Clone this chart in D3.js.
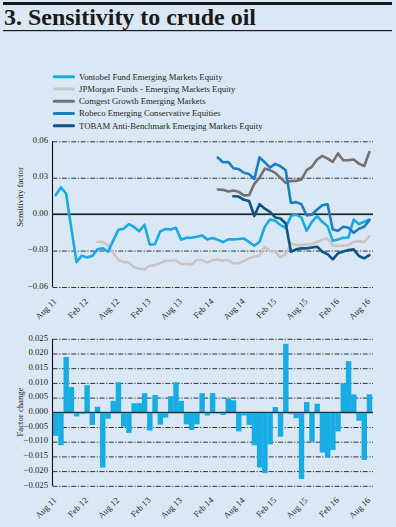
<!DOCTYPE html>
<html><head><meta charset="utf-8">
<script src="https://cdn.jsdelivr.net/npm/d3@7/dist/d3.min.js"></script>
<style>
html,body{margin:0;padding:0;background:#dae8f5;}
svg{display:block;}
text{font-family:"Liberation Serif","Times New Roman",serif;fill:#231f20;}
</style></head><body><svg id="c" width="396" height="527"></svg>
<script>
// ---------- data ----------
const titleText = "3. Sensitivity to crude oil";
const tickLabels = ["Aug 11","Feb 12","Aug 12","Feb 13","Aug 13","Feb 14","Aug 14","Feb 15","Aug 15","Feb 16","Aug 16"];
const tickMonths = [0,6,12,18,24,30,36,42,48,54,60]; // month index, 0 = Aug 2011
const seriesNames = ["Vontobel Fund Emerging Markets Equity","JPMorgan Funds - Emerging Markets Equity","Comgest Growth Emerging Markets","Robeco Emerging Conservative Equities","TOBAM Anti-Benchmark Emerging Markets Equity"];
const topTicks = [0.06,0.03,0.00,-0.03,-0.06];
const bottomTicks = [0.025,0.020,0.015,0.010,0.005,0.000,-0.005,-0.010,-0.015,-0.020,-0.025];

const vontobel = [0.0156,0.022,0.017,-0.0115,-0.0395,-0.0342,-0.0356,-0.0345,-0.029,-0.028,
 -0.031,-0.022,-0.0128,-0.012,-0.0082,-0.0105,-0.014,-0.0087,-0.025,-0.0248,
 -0.0142,-0.0122,-0.0126,-0.0112,-0.021,-0.0195,-0.0194,-0.0186,-0.0175,-0.0208,
 -0.0197,-0.021,-0.023,-0.0208,-0.0208,-0.0205,-0.02,-0.023,-0.026,-0.0227,
 -0.0104,-0.0044,-0.0055,-0.009,-0.0112,-0.0016,-0.0003,-0.0027,-0.0137,-0.0063,
 -0.0016,-0.0063,-0.0099,-0.022,-0.0208,-0.0195,-0.0192,-0.0044,-0.0082,-0.0063,
 -0.0044];
const jpmorgan = [null,null,null,null,null,null,null,null,
 -0.0227,-0.023,-0.0255,-0.032,-0.0378,-0.0395,-0.0397,-0.0438,-0.045,-0.0455,
 -0.0425,-0.042,-0.0405,-0.0384,-0.0384,-0.038,-0.041,-0.041,-0.0414,-0.0378,
 -0.0378,-0.04,-0.0378,-0.0373,-0.0384,-0.0378,-0.0405,-0.0405,-0.0386,-0.0364,
 -0.035,-0.034,-0.0268,-0.0304,-0.031,-0.0356,-0.033,-0.024,-0.0255,-0.0255,
 -0.025,-0.0247,-0.023,-0.0208,-0.02,-0.0258,-0.0263,-0.0258,-0.0255,-0.0227,
 -0.0222,-0.023,-0.018];
const comgest = [null,null,null,null,null,null,null,null,null,null,
 null,null,null,null,null,null,null,null,null,null,
 null,null,null,null,null,null,null,null,null,null,null,
 0.0203,0.0200,0.0187,0.0195,0.0184,0.0155,0.0157,0.025,0.030,0.0375,
 0.0362,0.034,0.0299,0.0258,0.0274,0.0274,0.0285,0.0362,0.039,0.045,
 0.048,0.0458,0.043,0.05,0.0444,0.0444,0.045,0.0416,0.0395,0.0512];
const robeco = [null,null,null,null,null,null,null,null,null,null,
 null,null,null,null,null,null,null,null,null,null,
 null,null,null,null,null,null,null,null,null,null,null,
 0.0466,0.0428,0.043,0.0378,0.0371,0.0341,0.033,0.029,0.0468,0.0426,
 0.0384,0.0414,0.0395,0.0362,0.0093,0.0099,0.0082,-0.0011,-0.0005,0.0038,
 0.0074,0.0082,-0.0126,-0.0137,-0.0104,-0.0112,-0.0153,-0.012,-0.0104,-0.0049];
const tobam = [null,null,null,null,null,null,null,null,null,null,
 null,null,null,null,null,null,null,null,null,null,
 null,null,null,null,null,null,null,null,null,null,
 null,null,null,null,
 0.0148,0.0145,0.0118,0.0108,-0.0015,0.0082,0.0045,0.0019,-0.0027,-0.0036,
 -0.0077,-0.031,-0.029,-0.0282,-0.0282,-0.0274,-0.0268,-0.031,-0.0329,-0.0373,
 -0.0323,-0.0307,-0.0296,-0.029,-0.0345,-0.0364,-0.0337];
const factorChange = [-0.008,-0.0112,0.0188,0.0086,-0.0014,-0.0005,0.0092,-0.0043,0.0019,-0.0188,
 -0.0022,0.0039,0.0102,-0.0049,-0.007,0.0031,0.0031,0.0065,-0.0062,0.0059,
 -0.0042,-0.0018,0.0055,0.0102,0.0039,-0.0041,-0.006,-0.0041,0.0065,-0.0011,
 0.0065,-0.0003,-0.0009,0.0047,0.0041,-0.0065,-0.0011,-0.0043,-0.0112,-0.0188,
 -0.0207,-0.0109,0.0018,-0.0083,0.0233,-0.0006,-0.002,-0.0227,0.0035,-0.01,
 0.0029,-0.0137,-0.0154,-0.0128,-0.0065,0.0099,0.0174,0.0061,-0.0029,-0.0162,
 0.0061];

// ---------- styles ----------
const seriesData = [vontobel, jpmorgan, comgest, robeco, tobam];
const seriesColors = ["#1aa9e1","#c9c5c2","#75716f","#1a7fc1","#0e5582"];
const drawOrder = [1,0,2,3,4];
const barColor = "#17ade4";
const gridDash = "5,1.6,1.2,1.6";

const svg = d3.select("#c");
svg.append("rect").attr("width",396).attr("height",527).attr("fill","#dae8f5");

// header
svg.append("rect").attr("x",3).attr("y",2).attr("width",389).attr("height",3).attr("fill","#1a1a1a");
svg.append("text").attr("x",4).attr("y",24.5).text(titleText)
  .attr("font-size",24).attr("font-weight","bold").style("fill","#1a1a1a")
  .attr("textLength",252).attr("lengthAdjust","spacingAndGlyphs");
svg.append("rect").attr("x",3).attr("y",30).attr("width",389).attr("height",1.2).attr("fill","#1a1a1a");

// legend
const leg = svg.append("g");
seriesNames.forEach((n,i)=>{
  const cy = 76.7 + i*12.25;
  leg.append("line").attr("x1",54.3).attr("x2",73.5).attr("y1",cy).attr("y2",cy)
    .attr("stroke",seriesColors[i]).attr("stroke-width",3).attr("stroke-linecap","round");
  leg.append("text").attr("x",79).attr("y",cy+2.9).attr("font-size",8.7).text(n);
});

const x = d3.scaleLinear().domain([-0.5,60.5]).range([53,372]);
const axisX = 52.5, gridRight = 373;

function panel(y, ticks, fmt, axisTitle, titleY, drawMarks){
  const g = svg.append("g");
  const yAx = d3.axisLeft(y).tickValues(ticks).tickFormat(fmt)
    .tickSize(-(gridRight-axisX)).tickPadding(4.5);
  const ga = g.append("g").attr("transform",`translate(${axisX},0)`).call(yAx);
  ga.select(".domain").remove();
  ga.selectAll(".tick line").attr("stroke","#1f1f1f")
    .attr("stroke-width",0.9)
    .attr("stroke-dasharray",d=>d===0?null:gridDash);
  ga.selectAll(".tick text").attr("font-size",8.7).attr("dy","0.14em")
    .style("font-family",'"Liberation Serif",serif').style("fill","#231f20");
  drawMarks(g);
  const [y0,y1] = [y(ticks[ticks.length-1]), y(ticks[0])];
  g.append("line").attr("x1",axisX).attr("x2",gridRight).attr("y1",y(0)).attr("y2",y(0))
    .attr("stroke","#1f1f1f").attr("stroke-width",1);
  g.append("line").attr("x1",axisX).attr("x2",axisX).attr("y1",y1).attr("y2",y0)
    .attr("stroke","#111").attr("stroke-width",1.1);
  const xa = d3.axisBottom(x).tickValues(tickMonths).tickFormat((d,i)=>tickLabels[i]).tickSize(0);
  const gx = g.append("g").attr("transform",`translate(0,${y0})`).call(xa);
  gx.select(".domain").remove();
  gx.selectAll(".tick text").attr("x",0).attr("y",0).attr("dy",0)
    .attr("text-anchor","end").attr("font-size",8.7)
    .style("font-family",'"Liberation Serif",serif').style("fill","#231f20")
    .attr("transform","translate(1,15) rotate(-45)");
  g.append("text").attr("transform",`translate(22.5,${titleY}) rotate(-90)`)
    .attr("text-anchor","middle").attr("font-size",8.7).text(axisTitle);
  return g;
}

// top chart
const yTop = d3.scaleLinear().domain([-0.06,0.06]).range([287,141.3]);
const line = d3.line().defined(d=>d!=null).x((d,i)=>x(i)).y(d=>yTop(d));
panel(yTop, topTicks, d3.format(".2f"), "Sensitivity factor", 197, g=>{
  // zero line drawn beneath the lines too
  g.append("line").attr("x1",axisX).attr("x2",gridRight).attr("y1",yTop(0)).attr("y2",yTop(0))
    .attr("stroke","#1f1f1f").attr("stroke-width",1);
});
// lines on top of the zero line
const gLines = svg.append("g");
drawOrder.forEach(k=>{
  gLines.append("path").datum(seriesData[k]).attr("d",line).attr("fill","none")
    .attr("stroke",seriesColors[k]).attr("stroke-width",2.6)
    .attr("stroke-linejoin","round").attr("stroke-linecap","round");
});

// bottom chart
const yBot = d3.scaleLinear().domain([-0.025,0.025]).range([485.8,338.8]);
panel(yBot, bottomTicks, d3.format(".3f"), "Factor change", 412, g=>{
  g.append("g").selectAll("rect").data(factorChange).join("rect")
    .attr("x",(d,i)=>x(i-0.5)).attr("width",(d,i)=>x(i+0.5)-x(i-0.5)+0.2)
    .attr("y",d=>yBot(Math.max(0,d))).attr("height",d=>Math.abs(yBot(d)-yBot(0)))
    .attr("fill",barColor);
});
</script></body></html>
